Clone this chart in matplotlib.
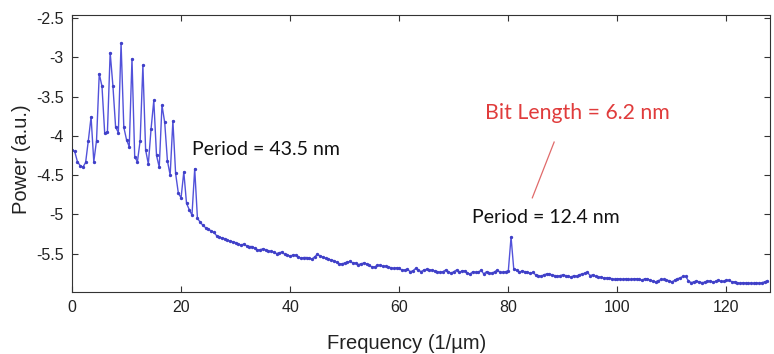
"""
Power spectrum of the patterned track, recreated with matplotlib.
"""

import numpy as np
import matplotlib
import matplotlib.pyplot as plt
from matplotlib import font_manager

# Use non-interactive backend for headless systems
matplotlib.use('Agg')

# Frequency grid step (1/um), spectrum starts at 0
FREQ_STEP = 0.5

# Power readings (a.u.), split in segments along the frequency axis
power_low = [  # 0 - 23.0
    -4.18, -4.20, -4.33, -4.38, -4.40, -4.34, -4.06, -3.76, -4.33, -4.06,
    -3.21, -3.37, -3.97, -3.95, -2.94, -3.36, -3.89, -3.96, -2.82, -3.89,
    -4.05, -4.14, -3.02, -4.27, -4.33, -4.06, -3.10, -4.18, -4.36, -3.91,
    -3.55, -4.25, -4.40, -3.61, -3.83, -4.32, -4.50, -3.81, -4.48, -4.73,
    -4.79, -4.46, -4.86, -4.94, -5.01, -4.42, -5.05,
]
power_a = [  # 23.5 - 44.5
    -5.10, -5.14, -5.17, -5.19, -5.21, -5.23, -5.27, -5.29, -5.30, -5.31,
    -5.33, -5.34, -5.35, -5.36, -5.38, -5.39, -5.38, -5.40, -5.41, -5.41,
    -5.43, -5.46, -5.45, -5.44, -5.45, -5.47, -5.47, -5.48, -5.50, -5.49,
    -5.48, -5.51, -5.52, -5.53, -5.52, -5.52, -5.54, -5.56, -5.55, -5.55,
    -5.56, -5.57, -5.54,
]
power_b = [  # 45.0 - 64.5
    -5.51, -5.53, -5.545, -5.56, -5.57, -5.58, -5.59, -5.61, -5.63, -5.63,
    -5.62, -5.61, -5.60, -5.62, -5.62, -5.64, -5.63, -5.62, -5.63, -5.65,
    -5.67, -5.67, -5.65, -5.65, -5.66, -5.66, -5.67, -5.68, -5.69, -5.68,
    -5.69, -5.71, -5.71, -5.70, -5.73, -5.72, -5.69, -5.71, -5.73, -5.71,
]
power_c = [  # 65.0 - 84.5 (bit peak at 80.5)
    -5.70, -5.71, -5.71, -5.72, -5.73, -5.74, -5.73, -5.71, -5.73, -5.75,
    -5.73, -5.71, -5.74, -5.72, -5.72, -5.75, -5.76, -5.73, -5.74, -5.74,
    -5.71, -5.76, -5.73, -5.75, -5.75, -5.73, -5.71, -5.74, -5.74, -5.73,
    -5.72, -5.29, -5.70, -5.71, -5.74, -5.72, -5.73, -5.74, -5.75, -5.74,
]
power_d = [  # 85.0 - 105.5
    -5.77, -5.78, -5.79, -5.77, -5.76, -5.76, -5.77, -5.78, -5.79, -5.78,
    -5.77, -5.78, -5.79, -5.80, -5.78, -5.79, -5.77, -5.76, -5.75, -5.74,
    -5.78, -5.77, -5.79, -5.80, -5.80, -5.81, -5.81, -5.81, -5.82, -5.83,
    -5.82, -5.82, -5.83, -5.82, -5.83, -5.83, -5.82, -5.82, -5.83, -5.84,
    -5.82, -5.82,
]
power_e = [  # 106.0 - 127.5
    -5.84, -5.85, -5.86, -5.845, -5.83, -5.83, -5.84, -5.845, -5.86, -5.84,
    -5.82, -5.81, -5.79, -5.79, -5.845, -5.87, -5.86, -5.85, -5.86, -5.87,
    -5.865, -5.85, -5.85, -5.86, -5.855, -5.84, -5.855, -5.855, -5.84, -5.84,
    -5.86, -5.86, -5.87, -5.88, -5.87, -5.875, -5.88, -5.875, -5.88, -5.87,
    -5.88, -5.87, -5.86, -5.845,
]

x_ticks = [0, 20, 40, 60, 80, 100, 120]
y_ticks = [-5.5, -5, -4.5, -4, -3.5, -3, -2.5]
y_tick_labels = ['-5.5', '-5', '-4.5', '-4', '-3.5', '-3', '-2.5']


def pick_font(candidates):
    """Return the first installed family from candidates."""
    names = {f.name for f in font_manager.fontManager.ttflist}
    for name in candidates:
        if name in names:
            return name
    return 'DejaVu Sans'


def main():
    power = np.array(power_low + power_a + power_b + power_c + power_d + power_e)
    freq = np.arange(len(power)) * FREQ_STEP

    axis_font = pick_font(['Liberation Sans Narrow', 'Liberation Sans'])
    note_font = pick_font(['Lato', 'Open Sans', 'Liberation Sans'])

    fig = plt.figure(figsize=(7.74, 3.54), dpi=100)
    ax = fig.add_axes([0.093, 0.175, 0.902, 0.783])

    ax.plot(freq, power, color='#5252DA', lw=1.0, marker='o', ms=1.4,
            mec='#4040C8', mfc='#4040C8')

    ax.set_xlim(0, 128)
    ax.set_ylim(-5.99, -2.46)
    ax.set_xticks(x_ticks)
    ax.set_yticks(y_ticks)
    ax.set_yticklabels(y_tick_labels)

    for side in ['left', 'right', 'top', 'bottom']:
        ax.spines[side].set_color('#333333')
        ax.spines[side].set_linewidth(0.8)
    ax.tick_params(direction='in', top=True, right=True, length=4,
                   width=0.8, color='#333333', labelsize=11.5, pad=6,
                   labelcolor='#222222')
    for lab in ax.get_xticklabels() + ax.get_yticklabels():
        lab.set_family(axis_font)

    ax.set_xlabel('Frequency (1/\u00b5m)', family=axis_font, fontsize=14.5,
                  color='#222222')
    ax.xaxis.set_label_coords(0.48, -0.15)
    ax.set_ylabel('Power (a.u.)', family=axis_font, fontsize=14.5,
                  color='#222222')
    ax.yaxis.set_label_coords(-0.058, 0.48)

    # Annotations
    ax.text(22.0, -4.18, 'Period = 43.5 nm', family=note_font, fontsize=14,
            ha='left', va='center', color='#111111')
    ax.text(73.4, -5.04, 'Period = 12.4 nm', family=note_font, fontsize=14,
            ha='left', va='center', color='#111111')
    ax.text(75.8, -3.71, 'Bit Length = 6.2 nm', family=note_font, fontsize=15.3,
            ha='left', va='center', color='#E03C3C')
    ax.plot([88.4, 84.4], [-4.08, -4.79], color='#E06A6A', lw=0.9)

    fig.savefig('out.png', dpi=100)
    plt.close(fig)


if __name__ == '__main__':
    main()
